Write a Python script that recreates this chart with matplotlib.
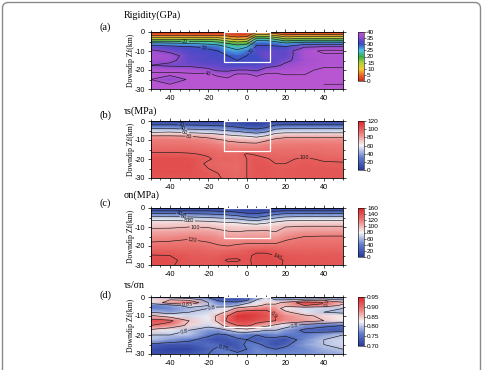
import numpy as np
import matplotlib
matplotlib.use('Agg')
import matplotlib.pyplot as plt
from matplotlib.colors import LinearSegmentedColormap, Normalize
from matplotlib.patches import Rectangle, FancyBboxPatch
from matplotlib.ticker import MultipleLocator
from matplotlib.cm import ScalarMappable

plt.rcParams['axes.unicode_minus'] = False

# ---------------- data ----------------
X_KM = [-50, -40, -30, -20, -15, -10, -5, 0, 5, 10, 15, 20, 30, 40, 50]
Z_KM = [0, -1.5, -3, -4.5, -6, -8, -10, -12.5, -15, -17.5, -20, -22.5, -25, -27.5, -30]

# rigidity (GPa), one list per X_KM column, values down the Z_KM rows
rigidity_cols = [
    [0, 4, 10, 18, 27, 33, 36, 38, 37, 35, 39, 41, 40, 41, 42],
    [0, 4, 10, 18, 26, 32, 34, 37, 36, 34, 39, 41, 35, 40, 42],
    [0, 4, 10, 18, 25, 31, 32, 33, 33, 34, 38, 41, 41, 41, 42],
    [0, 4, 10, 18, 24, 29, 31, 32, 32, 33, 36, 41, 42, 42, 42],
    [0, 4, 10, 17, 23, 28, 30, 31, 32, 33, 34, 39, 42, 42, 42],
    [0, 3, 8, 14, 20, 25, 27, 30, 31, 32, 34, 38, 41, 42, 42],
    [0, 2, 6, 12, 18, 23, 26, 29, 30, 31, 35, 41, 42, 42, 42],
    [0, 2, 7, 13, 19, 25, 28, 30, 31, 32, 35, 41, 42, 42, 42],
    [3, 11, 19, 25, 29, 31, 32, 31, 30, 32, 34, 39, 42, 42, 42],
    [3, 11, 19, 25, 29, 31, 33, 34, 32, 33, 37, 41, 42, 42, 42],
    [1, 8, 16, 23, 28, 31, 33, 33, 33, 34, 38, 41, 42, 42, 42],
    [0, 5, 12, 19, 26, 31, 33, 33, 34, 36, 38, 40, 41, 42, 42],
    [0, 6, 13, 21, 28, 35, 38, 38, 37, 38, 39, 40, 41, 41, 41],
    [0, 6, 13, 21, 28, 36, 41, 39, 39, 39, 41, 41, 41, 40, 41],
    [0, 6, 13, 21, 28, 36, 41, 39, 39, 39, 41, 41, 41, 40, 41],
]

# shear stress tau_s (MPa)
taus_cols = [
    [5, 15, 30, 45, 60, 82, 90, 93, 97, 102, 106, 106, 106, 105, 104],
    [5, 15, 30, 45, 62, 82, 90, 93, 97, 102, 106, 106, 106, 105, 104],
    [5, 15, 28, 42, 58, 80, 89, 93, 97, 101, 105, 106, 106, 105, 104],
    [5, 14, 26, 40, 55, 75, 86, 91, 95, 99, 101, 98, 100, 102, 102],
    [5, 13, 24, 38, 52, 70, 82, 89, 94, 97, 98, 97, 98, 100, 101],
    [5, 12, 22, 35, 48, 66, 78, 86, 92, 96, 99, 97, 97, 98, 98],
    [4, 10, 18, 30, 45, 62, 76, 85, 91, 97, 97, 96, 96, 97, 97],
    [3, 6, 14, 25, 40, 60, 74, 84, 92, 101, 100, 100, 100, 100, 100],
    [2, 5, 12, 22, 36, 56, 72, 84, 92, 99, 103, 104, 104, 103, 103],
    [3, 8, 16, 28, 42, 62, 78, 88, 93, 97, 101, 103, 104, 104, 103],
    [5, 15, 28, 42, 56, 72, 84, 90, 94, 97, 98, 100, 102, 102, 102],
    [5, 15, 30, 45, 58, 76, 86, 90, 94, 96, 99, 100, 102, 102, 102],
    [5, 15, 30, 45, 58, 76, 86, 91, 94, 97, 101, 102, 103, 103, 103],
    [5, 15, 30, 45, 58, 76, 86, 91, 94, 96, 99, 101, 103, 103, 103],
    [5, 15, 30, 45, 58, 76, 86, 90, 93, 95, 98, 101, 102, 103, 103],
]

# normal stress sigma_n (MPa)
sigman_cols = [
    [5, 20, 40, 60, 75, 90, 98, 105, 113, 119, 125, 132, 141, 143, 142],
    [5, 20, 40, 60, 75, 90, 98, 106, 114, 120, 126, 133, 140, 142, 141],
    [5, 20, 40, 58, 73, 92, 100, 108, 117, 122, 127, 132, 136, 137, 137],
    [5, 20, 38, 55, 70, 90, 99, 107, 115, 119, 124, 130, 134, 136, 136],
    [5, 18, 35, 52, 68, 86, 96, 104, 112, 117, 121, 129, 134, 137, 137],
    [5, 17, 33, 50, 66, 84, 94, 101, 109, 116, 120, 130, 137, 141, 138],
    [4, 14, 28, 45, 62, 82, 93, 100, 108, 116, 122, 131, 138, 141, 137],
    [3, 10, 22, 38, 56, 78, 92, 102, 110, 117, 123, 134, 138, 138, 138],
    [2, 8, 20, 35, 52, 76, 92, 102, 110, 117, 123, 138, 142, 143, 142],
    [3, 12, 26, 42, 60, 80, 94, 102, 110, 117, 124, 138, 142, 143, 142],
    [5, 18, 36, 52, 68, 86, 96, 100, 108, 116, 124, 134, 140, 143, 142],
    [5, 20, 40, 58, 74, 90, 100, 106, 115, 121, 126, 132, 137, 139, 139],
    [5, 20, 40, 60, 76, 92, 102, 110, 120, 124, 128, 132, 136, 137, 138],
    [5, 20, 40, 60, 76, 92, 102, 110, 121, 124, 128, 132, 136, 137, 137],
    [5, 20, 40, 60, 76, 92, 102, 110, 121, 124, 128, 132, 135, 137, 137],
]

# tau_s / sigma_n, one list per Z_KM row, values across the X_KM columns
ratio_rows = [
    [0.80, 0.78, 0.76, 0.74, 0.72, 0.73, 0.72, 0.74, 0.78, 0.80, 0.76, 0.74, 0.73, 0.72, 0.74],
    [0.84, 0.85, 0.84, 0.78, 0.74, 0.73, 0.72, 0.74, 0.80, 0.82, 0.80, 0.80, 0.82, 0.83, 0.80],
    [0.82, 0.87, 0.90, 0.80, 0.77, 0.76, 0.76, 0.79, 0.82, 0.84, 0.84, 0.86, 0.93, 0.91, 0.86],
    [0.76, 0.78, 0.82, 0.80, 0.79, 0.78, 0.80, 0.83, 0.84, 0.86, 0.86, 0.86, 0.90, 0.88, 0.84],
    [0.76, 0.77, 0.79, 0.80, 0.81, 0.82, 0.86, 0.87, 0.88, 0.89, 0.87, 0.83, 0.81, 0.81, 0.80],
    [0.80, 0.78, 0.80, 0.81, 0.83, 0.86, 0.91, 0.92, 0.92, 0.91, 0.89, 0.86, 0.82, 0.80, 0.79],
    [0.86, 0.83, 0.81, 0.82, 0.86, 0.90, 0.94, 0.94, 0.93, 0.92, 0.90, 0.88, 0.86, 0.84, 0.83],
    [0.92, 0.91, 0.85, 0.82, 0.86, 0.91, 0.93, 0.93, 0.92, 0.91, 0.90, 0.88, 0.87, 0.85, 0.83],
    [0.90, 0.88, 0.84, 0.81, 0.83, 0.87, 0.90, 0.91, 0.88, 0.86, 0.84, 0.82, 0.78, 0.76, 0.75],
    [0.84, 0.82, 0.80, 0.78, 0.78, 0.80, 0.82, 0.83, 0.82, 0.80, 0.80, 0.78, 0.74, 0.73, 0.73],
    [0.80, 0.80, 0.80, 0.76, 0.74, 0.75, 0.77, 0.76, 0.75, 0.76, 0.77, 0.76, 0.76, 0.78, 0.80],
    [0.80, 0.78, 0.76, 0.73, 0.72, 0.73, 0.74, 0.75, 0.73, 0.74, 0.73, 0.72, 0.77, 0.80, 0.81],
    [0.74, 0.73, 0.73, 0.75, 0.74, 0.72, 0.73, 0.76, 0.76, 0.74, 0.72, 0.74, 0.78, 0.80, 0.81],
    [0.72, 0.71, 0.71, 0.74, 0.76, 0.75, 0.73, 0.75, 0.77, 0.76, 0.75, 0.76, 0.77, 0.79, 0.80],
    [0.72, 0.72, 0.73, 0.75, 0.76, 0.77, 0.76, 0.76, 0.77, 0.77, 0.77, 0.77, 0.77, 0.78, 0.79],
]

# rupture box outline (km)
BOX_X = [-12, 12]
BOX_Z = [-16, 0]

X_TICKS = [-40, -20, 0, 20, 40]
Z_TICKS = [0, -10, -20, -30]

titles = ['Rigidity(GPa)', 'τs(MPa)', 'σn(MPa)', 'τs/σn']
labels = ['(a)', '(b)', '(c)', '(d)']

# ---------------- styling ----------------
SERIF = ['Liberation Serif', 'DejaVu Serif']
SANS = ['Liberation Sans', 'DejaVu Sans']

rainbow = LinearSegmentedColormap.from_list('rig', [
    (0.0, '#cc2e1c'), (0.11, '#e8602a'), (0.24, '#f4c832'), (0.37, '#b0d040'),
    (0.5, '#36ac48'), (0.62, '#4cc6ea'), (0.75, '#3a4ec4'), (0.82, '#5a48c8'),
    (0.9, '#9c4ecf'), (1.0, '#b856d2')])
polar = LinearSegmentedColormap.from_list('pol', [
    (0.0, '#2a3a9c'), (0.25, '#5f7ccb'), (0.5, '#f6f6f8'), (0.75, '#ec7c78'),
    (1.0, '#d8282a')])

W, H = 483, 370
fig = plt.figure(figsize=(W / 100, H / 100), dpi=100)


def fx(px):
    return px / W


def fy(py):
    return 1 - py / H


AX_L, AX_R, AX_H = 150.7, 343.0, 57.0
tops = [32, 121, 208, 297]
title_y = [15, 111, 195, 286]
label_y = [27, 115, 203, 295]

XX, ZZ = np.meshgrid(np.array(X_KM, float), np.array(Z_KM, float))
fields = [np.array(rigidity_cols, float).T, np.array(taus_cols, float).T,
          np.array(sigman_cols, float).T, np.array(ratio_rows, float)]
cmaps = [rainbow, polar, polar, polar]
ranges = [(0, 40), (0, 120), (0, 160), (0.70, 0.95)]
levels = [np.arange(5, 41, 5), np.arange(20, 101, 20), np.arange(20, 141, 20),
          np.array([0.75, 0.80, 0.85, 0.90])]
cb_ticks = [np.arange(0, 41, 5), np.arange(0, 121, 20), np.arange(0, 161, 20),
            np.arange(0.70, 0.951, 0.05)]
cb_fmt = ['%d', '%d', '%d', '%.2f']
cl_fmt = ['%d', '%d', '%d', '%g']
cl_pos = [
    [(-32, -4.5), (-23, -12), (3, -10.5), (-20, -21)],
    [(-34, -2), (-33, -4), (-32, -6.5), (-30, -8), (30, -18)],
    [(-35, -3), (-33, -5), (-31, -6.5), (-29, -8), (-27, -9.5), (-28, -15.5), (14, -28)],
    [(-31, -3), (-18, -8), (15, -8), (42, -3.5), (-33, -17), (-12, -26), (25, -16)],
]

for i in range(4):
    top = tops[i]
    ax = fig.add_axes([fx(AX_L), fy(top + AX_H), fx(AX_R - AX_L), AX_H / H])
    vmin, vmax = ranges[i]
    norm = Normalize(vmin=vmin, vmax=vmax)
    ax.pcolormesh(XX, ZZ, fields[i], cmap=cmaps[i], norm=norm, shading='gouraud',
                  rasterized=True)
    cs = ax.contour(XX, ZZ, fields[i], levels=levels[i], colors='#1a1a1a',
                    linewidths=0.45)
    try:
        ax.clabel(cs, fontsize=3.6, fmt=cl_fmt[i], inline=True, inline_spacing=0.5,
                  manual=cl_pos[i])
    except Exception:
        pass
    ax.add_patch(Rectangle((BOX_X[0], BOX_Z[0]), BOX_X[1] - BOX_X[0], BOX_Z[1] - BOX_Z[0],
                           fill=False, edgecolor='white', linewidth=0.9, zorder=5))
    ax.set_xlim(-50, 50)
    ax.set_ylim(-30, 0)
    ax.set_xticks(X_TICKS)
    ax.set_yticks(Z_TICKS)
    ax.xaxis.set_minor_locator(MultipleLocator(5))
    ax.yaxis.set_minor_locator(MultipleLocator(5))
    ax.tick_params(which='both', direction='out', top=True, right=True, width=0.5,
                   labelsize=5.2, pad=1.5)
    ax.tick_params(which='major', length=2.5)
    ax.tick_params(which='minor', length=1.3)
    for lab in ax.get_xticklabels() + ax.get_yticklabels():
        lab.set_family(SANS)
    for sp in ax.spines.values():
        sp.set_linewidth(0.6)
    ax.set_ylabel('Downdip Zf(km)', family=SERIF, fontsize=5.6, labelpad=0)

    # colorbar
    cax = fig.add_axes([fx(358), fy(top + 49), 6 / W, 49 / H])
    cb = fig.colorbar(ScalarMappable(norm=norm, cmap=cmaps[i]), cax=cax,
                      ticks=cb_ticks[i], format=cb_fmt[i])
    cb.outline.set_linewidth(0.4)
    cax.tick_params(labelsize=4.6, length=1.2, width=0.4, pad=1)
    for lab in cax.get_yticklabels():
        lab.set_family(SANS)

    fig.text(fx(124), fy(title_y[i]), titles[i], family=SERIF, fontsize=7.2,
             ha='left', va='center')
    fig.text(fx(99), fy(label_y[i]), labels[i], family=SERIF, fontsize=7.5,
             ha='left', va='center')

# outer frame
frame = FancyBboxPatch((fx(2.5), -0.05), fx(478), fy(2.5) + 0.05,
                       boxstyle='round,pad=0,rounding_size=0.012',
                       transform=fig.transFigure, fill=False,
                       edgecolor='#8a8a8a', linewidth=1.0, mutation_aspect=W / H)
fig.patches.append(frame)

fig.savefig('out.png', dpi=100)
